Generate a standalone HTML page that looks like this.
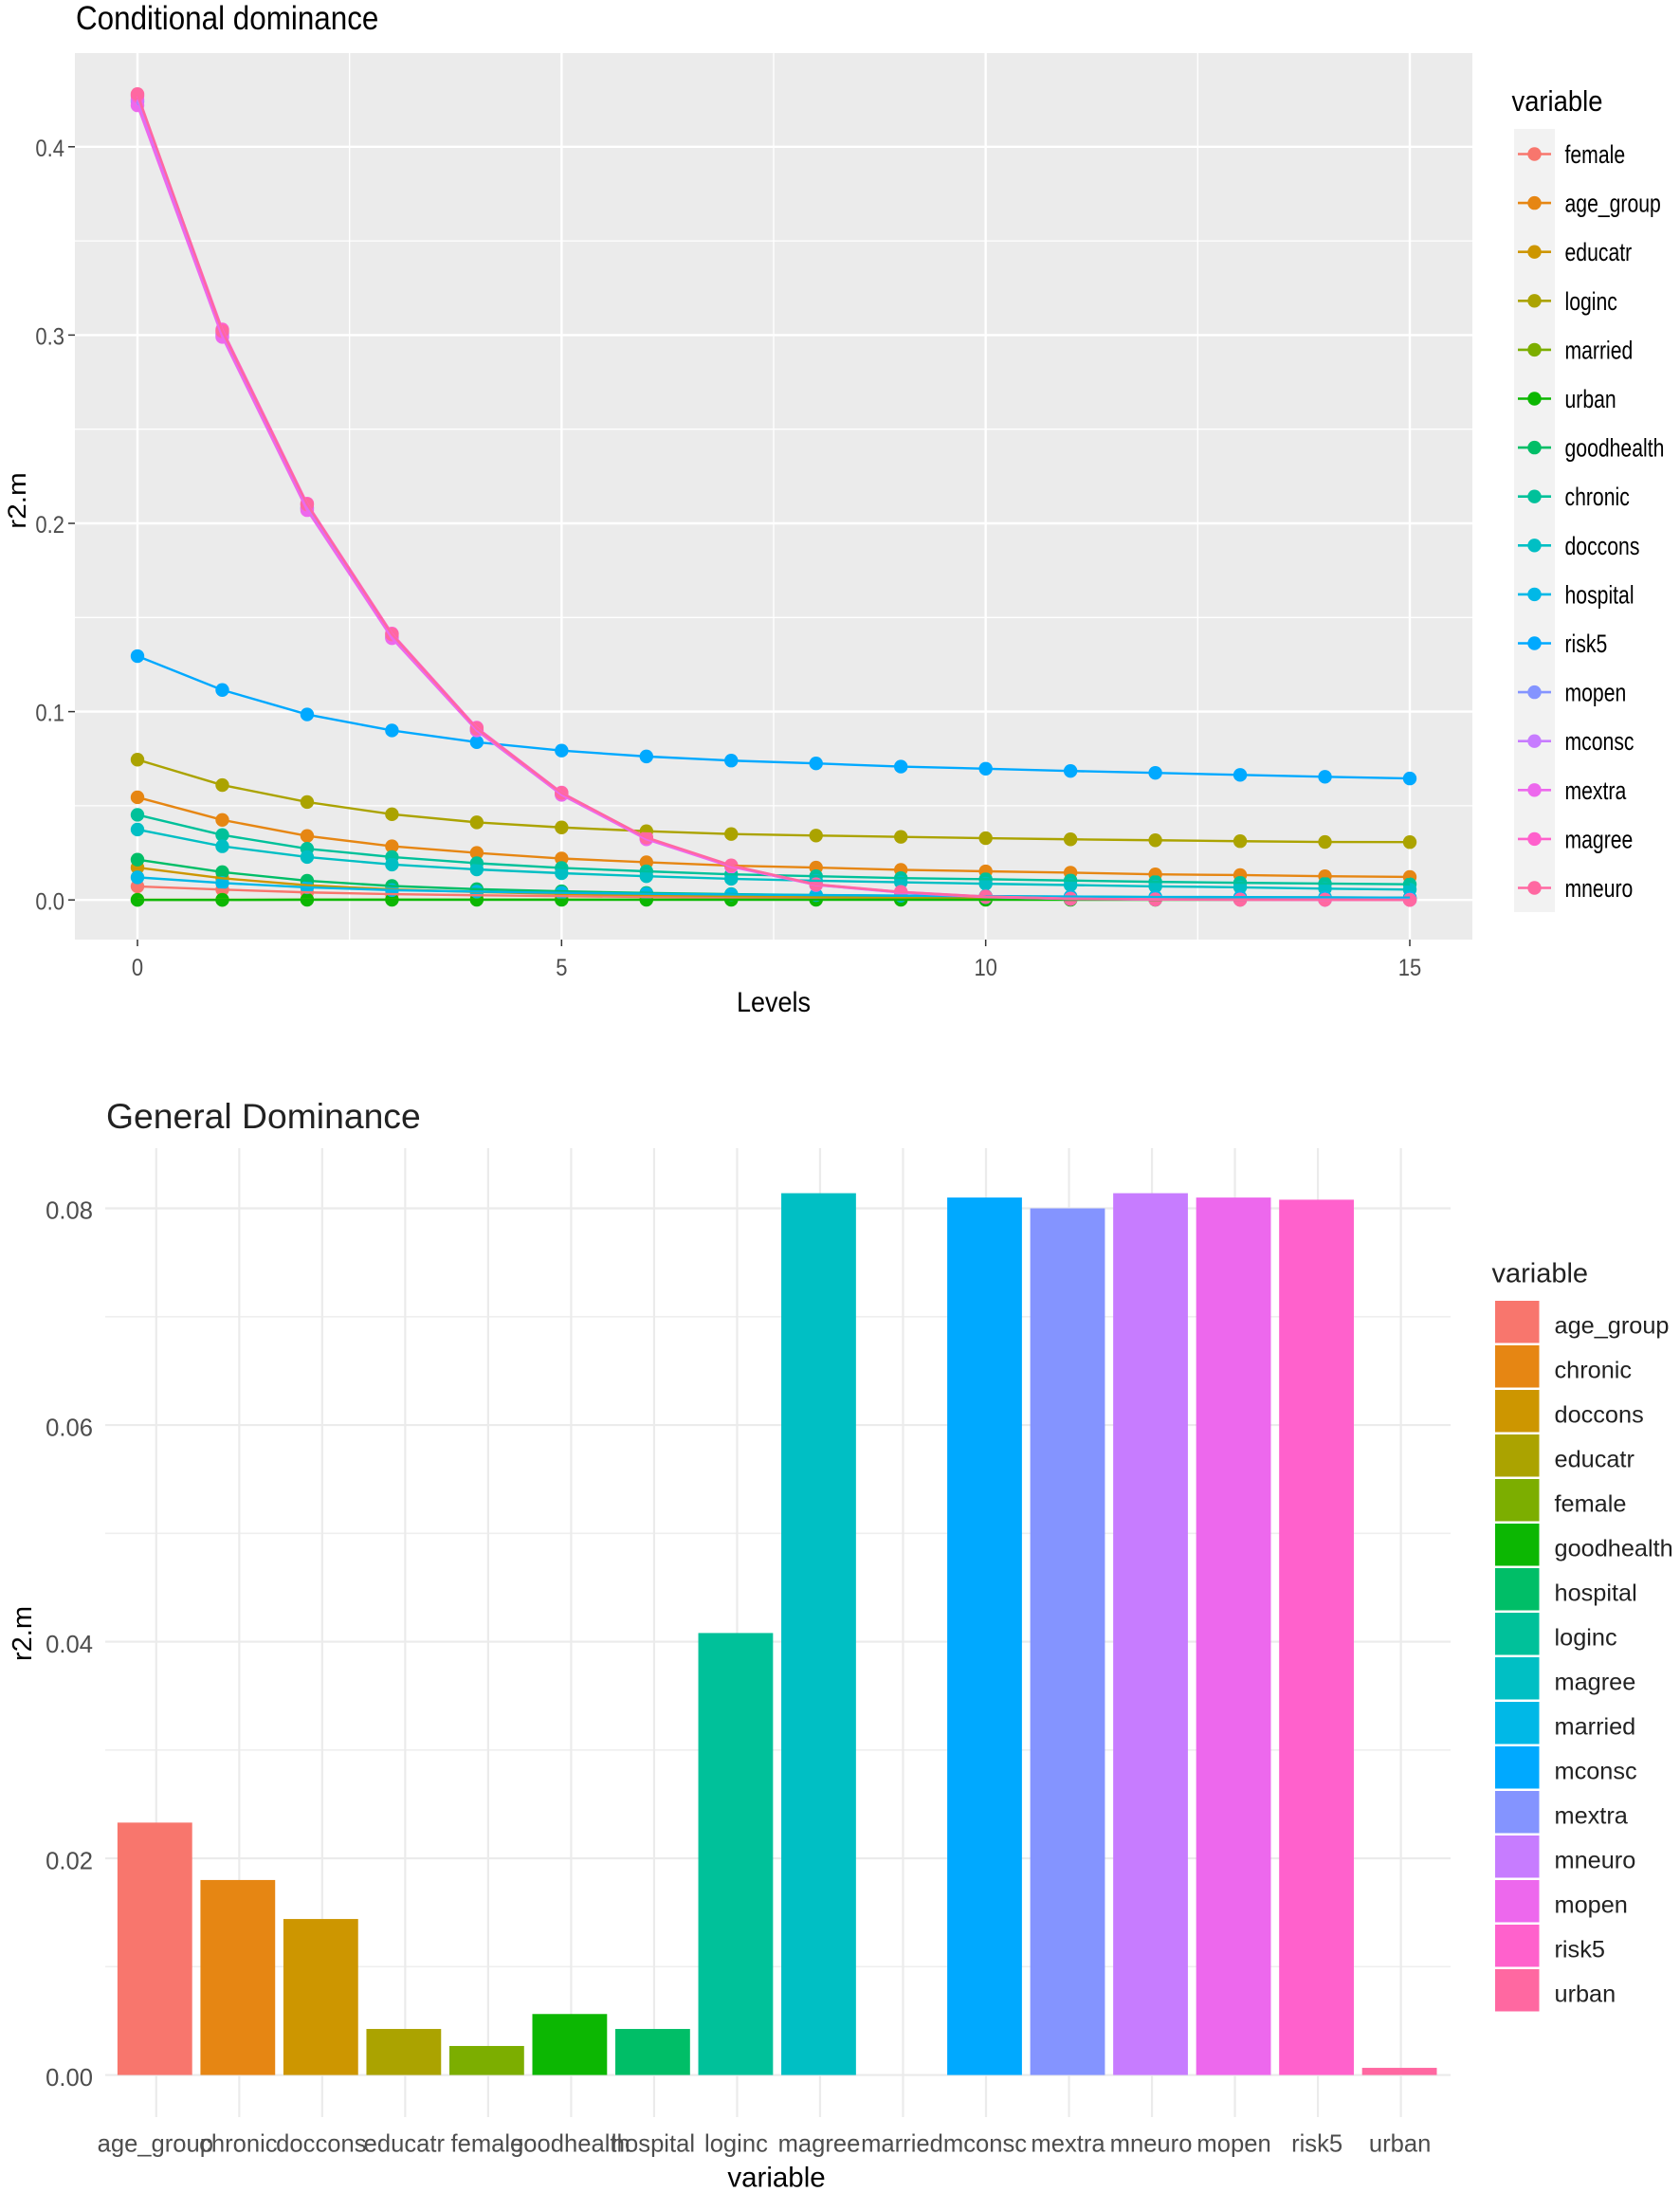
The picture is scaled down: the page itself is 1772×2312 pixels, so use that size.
<!DOCTYPE html>
<html lang="en">
<head>
<meta charset="utf-8">
<title>Conditional and General Dominance</title>
<style>
html,body{margin:0;padding:0;background:#fff;}
svg{display:block;}
text{font-family:"Liberation Sans",sans-serif;}
</style>
</head>
<body>
<svg id="figure" xmlns="http://www.w3.org/2000/svg" width="1772" height="2312" viewBox="0 0 1772 2312">
  <rect x="0" y="0" width="1772" height="2312" fill="#ffffff"/>
  <g id="top-chart"></g>
  <g id="bottom-chart"></g>
</svg>
<script>
// ---------- Conditional dominance data ----------
const levels = [0,1,2,3,4,5,6,7,8,9,10,11,12,13,14,15];
const lineXTicks = [0,5,10,15];
const lineXMinorTicks = [2.5,7.5,12.5];
const lineYTicks = [0,0.1,0.2,0.3,0.4];
const lineYTickLabels = ['0.0','0.1','0.2','0.3','0.4'];
const lineYMinorTicks = [0.05,0.15,0.25,0.35];

const femaleValues    = [.0072,.0055,.0040,.0031,.0025,.0020,.0016,.0013,.0011,.0009,.0008,.0007,.0006,.0006,.0005,.0005];
const ageGroupValues  = [.0545,.0425,.0340,.0285,.0250,.0220,.0200,.0182,.0172,.0160,.0152,.0145,.0136,.0132,.0126,.0122];
const educatrValues   = [.0172,.0115,.0078,.0056,.0042,.0032,.0026,.0021,.0017,.0014,.0012,.0010,.0009,.0008,.0007,.0006];
const logincValues    = [.0745,.0610,.0520,.0455,.0412,.0385,.0365,.0350,.0342,.0335,.0328,.0322,.0317,.0312,.0308,.0307];
const marriedValues   = [.0001,.0001,.0002,.0002,.0002,.0002,.0002,.0002,.0002,.0002,.0002,.0002,.0002,.0002,.0002,.0002];
const urbanValues     = [0,0,.0001,.0001,.0001,.0001,.0001,.0001,.0001,.0001,.0001,.0001,.0001,.0001,.0001,.0001];
const goodhealthValues= [.0214,.0148,.0102,.0074,.0057,.0046,.0037,.0031,.0026,.0022,.0020,.0017,.0015,.0014,.0013,.0012];
const chronicValues   = [.0452,.0345,.0272,.0228,.0195,.0170,.0152,.0136,.0126,.0116,.0110,.0103,.0096,.0091,.0087,.0083];
const docconsValues   = [.0374,.0285,.0228,.0188,.0162,.0142,.0126,.0112,.0102,.0094,.0086,.0079,.0072,.0067,.0060,.0055];
const hospitalValues  = [.0120,.0090,.0067,.0052,.0044,.0038,.0033,.0029,.0026,.0023,.0020,.0018,.0016,.0015,.0014,.0012];
const risk5Values     = [.1295,.1115,.0985,.0900,.0838,.0793,.0762,.0740,.0725,.0708,.0697,.0685,.0675,.0664,.0654,.0645];
const mopenValues     = [.4240,.3000,.2080,.1395,.0900,.0560,.0325,.0178,.0080,.0040,.0016,.0006,.0003,.0002,.0001,.0001];
const mconscValues    = [.4250,.3010,.2085,.1400,.0905,.0565,.0328,.0180,.0082,.0041,.0017,.0006,.0003,.0002,.0001,.0001];
const mextraValues    = [.4220,.2990,.2070,.1390,.0900,.0558,.0322,.0176,.0079,.0039,.0015,.0005,.0002,.0001,.0001,0];
const magreeValues    = [.4270,.3030,.2105,.1415,.0915,.0570,.0330,.0182,.0083,.0043,.0018,.0006,.0003,.0002,.0001,0];
const mneuroValues    = [.4280,.3020,.2100,.1410,.0910,.0568,.0332,.0184,.0082,.0042,.0018,.0007,.0003,.0001,.0001,0];

const lineNames  = ['female','age_group','educatr','loginc','married','urban','goodhealth','chronic','doccons','hospital','risk5','mopen','mconsc','mextra','magree','mneuro'];
const lineValues = [femaleValues,ageGroupValues,educatrValues,logincValues,marriedValues,urbanValues,goodhealthValues,chronicValues,docconsValues,hospitalValues,risk5Values,mopenValues,mconscValues,mextraValues,magreeValues,mneuroValues];
const hueColors  = ['#F8766D','#E68613','#CD9600','#ABA300','#7CAE00','#0CB702','#00BE67','#00C19A','#00BFC4','#00B8E7','#00A9FF','#8494FF','#C77CFF','#ED68ED','#FF61CC','#FF68A1'];

// ---------- General dominance data ----------
const barCategories = ['age_group','chronic','doccons','educatr','female','goodhealth','hospital','loginc','magree','married','mconsc','mextra','mneuro','mopen','risk5','urban'];
const barValues = [0.0233,0.0180,0.0144,0.00425,0.00268,0.00563,0.00425,0.0408,0.0814,0,0.0810,0.0800,0.0814,0.0810,0.0808,0.00066];
const barYTicks = [0,0.02,0.04,0.06,0.08];
const barYTickLabels = ['0.00','0.02','0.04','0.06','0.08'];
const barYMinorTicks = [0.01,0.03,0.05,0.07];

// ---------- Helpers ----------
const NS = 'http://www.w3.org/2000/svg';
function make(parent, tag, attrs){
  const el = document.createElementNS(NS, tag);
  for (const k in attrs) el.setAttribute(k, attrs[k]);
  parent.appendChild(el);
  return el;
}
// Text placed by its vertical centre; sy stretches glyphs vertically, as in the raster source.
function label(parent, str, x, cy, size, fill, anchor, sy){
  const base = cy + 0.36 * size * sy;
  const el = make(parent, 'text', {
    transform: 'translate(' + x + ',' + base + ') scale(1,' + sy + ')',
    'font-size': size, fill: fill, 'text-anchor': anchor
  });
  el.textContent = str;
  return el;
}

// ---------- Top chart ----------
const top_ = document.getElementById('top-chart');
const P1 = {left:79, right:1553, top:56, bottom:991};
const lineX = v => 145 + (1487 - 145) * v / 15;
const lineY = v => 949.2 - 1986 * v;

const titleTop = label(top_, 'Conditional dominance', 80, 18.5, 31.4, '#000', 'start', 1.12);



const panel1 = make(top_, 'rect', {x:P1.left, y:P1.top, width:P1.right-P1.left, height:P1.bottom-P1.top, fill:'#EBEBEB'});



const grid1 = make(top_, 'g', {});


lineYMinorTicks.forEach(v => {
  const l = make(grid1, 'line', {x1:P1.left, x2:P1.right, y1:lineY(v), y2:lineY(v), stroke:'#fff', 'stroke-width':1.3});
  
  
});
lineXMinorTicks.forEach(v => {
  const l = make(grid1, 'line', {y1:P1.top, y2:P1.bottom, x1:lineX(v), x2:lineX(v), stroke:'#fff', 'stroke-width':1.3});
  
  
});
lineYTicks.forEach((v, i) => {
  const l = make(grid1, 'line', {x1:P1.left, x2:P1.right, y1:lineY(v), y2:lineY(v), stroke:'#fff', 'stroke-width':2.4});
  
  
  const t = make(top_, 'line', {x1:P1.left-7, x2:P1.left, y1:lineY(v), y2:lineY(v), stroke:'#333', 'stroke-width':1.5});
  
  
  const s = label(top_, lineYTickLabels[i], 68, lineY(v)+1, 22, '#4D4D4D', 'end', 1.15);
  
  
});
lineXTicks.forEach(v => {
  const l = make(grid1, 'line', {y1:P1.top, y2:P1.bottom, x1:lineX(v), x2:lineX(v), stroke:'#fff', 'stroke-width':2.4});
  
  
  const t = make(top_, 'line', {y1:P1.bottom, y2:P1.bottom+7, x1:lineX(v), x2:lineX(v), stroke:'#333', 'stroke-width':1.5});
  
  
  const s = label(top_, String(v), lineX(v), 1020, 22, '#4D4D4D', 'middle', 1.15);
  
  
});

const pointLayer = make(top_, 'g', {});


const lineLayer = make(top_, 'g', {});


lineNames.forEach((name, s) => {
  const vals = lineValues[s];
  const d = vals.map((v, i) => (i ? 'L' : 'M') + lineX(levels[i]).toFixed(2) + ' ' + lineY(v).toFixed(2)).join('');
  vals.forEach((v, i) => {
    const c = make(pointLayer, 'circle', {cx:lineX(levels[i]), cy:lineY(v), r:7.2, fill:hueColors[s]});
    
    
  });
  const p = make(lineLayer, 'path', {d:d, fill:'none', stroke:hueColors[s], 'stroke-width':2.4, 'stroke-linejoin':'round'});
  
  
});

const xTitle1 = label(top_, 'Levels', 816, 1056.5, 27, '#000', 'middle', 1.1);


const yTitle1 = make(top_, 'text', {transform:'translate(27,528) rotate(-90) scale(1.1,1)', 'font-size':27, fill:'#000', 'text-anchor':'middle'});
yTitle1.textContent = 'r2.m';



const legTitle1 = label(top_, 'variable', 1594.5, 106, 27.4, '#000', 'start', 1.1);


const legBg = make(top_, 'rect', {x:1597, y:136, width:43, height:826, fill:'#F2F2F2'});


lineNames.forEach((name, s) => {
  const cy = 162.5 + 51.6 * s;
  const g = make(top_, 'g', {});
  
  
  make(g, 'line', {x1:1601, x2:1636, y1:cy, y2:cy, stroke:hueColors[s], 'stroke-width':2.6});
  make(g, 'circle', {cx:1618.5, cy:cy, r:7.2, fill:hueColors[s]});
  label(g, name, 1650.5, cy, 21.2, '#000', 'start', 1.25);
});

// ---------- Bottom chart ----------
const bot = document.getElementById('bottom-chart');
const P2 = {left:111, right:1530, top:1211, bottom:2233};
const barX = i => 164.8 + 87.52 * i;
const barY = v => 2188.6 - 11426 * v;
const BAR_W = 78.8;

const titleBot = label(bot, 'General Dominance', 112, 1176.5, 37.3, '#222', 'start', 1);



const grid2 = make(bot, 'g', {});


barYMinorTicks.forEach(v => {
  const l = make(grid2, 'line', {x1:P2.left, x2:P2.right, y1:barY(v), y2:barY(v), stroke:'#EFEFEF', 'stroke-width':1.6});
  
  
});
barYTicks.forEach((v, i) => {
  const l = make(grid2, 'line', {x1:P2.left, x2:P2.right, y1:barY(v), y2:barY(v), stroke:'#EBEBEB', 'stroke-width':2.2});
  
  
  const s = label(bot, barYTickLabels[i], 98, barY(v)+2, 25.6, '#4D4D4D', 'end', 1);
  
  
});
barCategories.forEach((name, i) => {
  const l = make(grid2, 'line', {y1:P2.top, y2:P2.bottom, x1:barX(i), x2:barX(i), stroke:'#EBEBEB', 'stroke-width':2.2});
  
  
});
barCategories.forEach((name, i) => {
  const r = make(bot, 'rect', {x:barX(i)-1.5-BAR_W/2, y:barY(barValues[i]), width:BAR_W, height:barY(0)-barY(barValues[i]), fill:hueColors[i]});
  
  
});
barCategories.forEach((name, i) => {
  const s = label(bot, name, barX(i)-1, 2260.5, 25.6, '#4D4D4D', 'middle', 1);
  
  
});
const xTitle2 = label(bot, 'variable', 819, 2296, 29.5, '#000', 'middle', 1);


const yTitle2 = make(bot, 'text', {transform:'translate(33,1723) rotate(-90)', 'font-size':29, fill:'#000', 'text-anchor':'middle'});
yTitle2.textContent = 'r2.m';



const legTitle2 = label(bot, 'variable', 1573.5, 1342, 29, '#222', 'start', 1);


barCategories.forEach((name, i) => {
  const y0 = 1372 + 47 * i;
  const g = make(bot, 'g', {});
  
  
  make(g, 'rect', {x:1577, y:y0, width:46.5, height:44.5, fill:hueColors[i]});
  label(g, name, 1639.5, y0+25.5, 25.3, '#222', 'start', 1);
});
</script>
</body>
</html>
